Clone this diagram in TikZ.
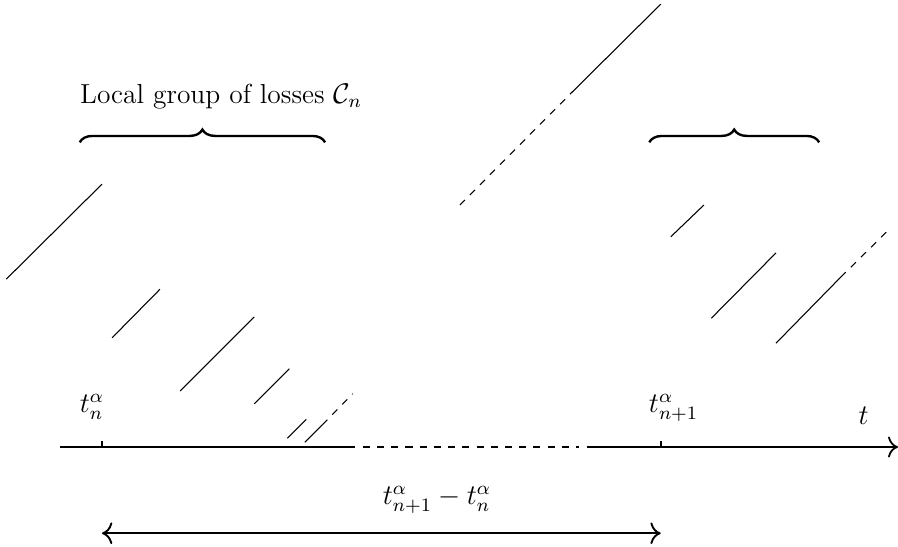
\documentclass[tikz,border=0pt]{standalone}
\usetikzlibrary{decorations.pathreplacing, arrows.meta}

\tikzset{
    loss/.style={black, line width=0.45pt},
    bracebox/.style={decorate, decoration={brace, amplitude=0.19cm}, line width=1pt},
    eixo/.style={line width=0.75pt}
}

\begin{document}
\begin{tikzpicture}[scale=1.0, >={To[scale=1.3]},
        every node/.style={font=\fontsize{11.6}{14}\selectfont}]
        \useasboundingbox (-1.513,-1.469) rectangle (11.81,6.632);

        \coordinate (inicio) at (-0.62,0);
        \coordinate (tn) at (0,0);
        \coordinate (corte1) at (3.75,0);
        \coordinate (corte2) at (3.87,0);
        \coordinate (corte3) at (7.08,0);
        \coordinate (corte4) at (7.19,0);
        \coordinate (tn1) at (8.29,0);
        \coordinate (fim) at (11.81,0);

        % Eixo do tempo.
        \draw[eixo] (inicio) -- (corte1);
        \draw[eixo, dashed] (corte2) -- (corte3);
        \draw[eixo, ->] (corte4) -- (fim);
        \draw[eixo] (tn) -- ++(0,0.09);
        \draw[eixo] (tn1) -- ++(0,0.09);

        \node[anchor=base] (rotulotn) at (-0.15,0.51) {$t_n^\alpha$};
        \node[anchor=base] (rotulotn1) at (8.48,0.51) {$t_{n+1}^\alpha$};
        \node[anchor=base] (rotulot) at (11.30,0.34) {$t$};

        % Perdas locais em torno de t_n.
        \draw[loss] (-1.42,2.49) -- (0,3.90);
        \draw[loss] (0.15,1.62) -- (0.86,2.34);
        \draw[loss] (1.16,0.83) -- (2.26,1.93);
        \draw[loss] (2.26,0.64) -- (2.78,1.16);
        \draw[loss] (2.75,0.13) -- (3.03,0.41);
        \draw[loss] (3.01,0.07) -- (3.27,0.33);
        \draw[loss, dashed] (3.27,0.33) -- (3.72,0.79);

        % Perda longa entre os grupos.
        \draw[loss, dashed] (5.31,3.59) -- (6.96,5.25);
        \draw[loss] (6.96,5.25) -- (8.29,6.57);

        % Perdas locais em torno de t_{n+1}.
        \draw[loss] (8.44,3.12) -- (8.93,3.59);
        \draw[loss] (9.04,1.91) -- (10.0,2.88);
        \draw[loss] (10.0,1.54) -- (10.96,2.52);
        \draw[loss, dashed] (10.96,2.52) -- (11.68,3.23);

        % Chaves dos grupos.
        \draw[bracebox] (-0.33,4.52) -- (3.31,4.52);
        \draw[bracebox] (8.12,4.52) -- (10.64,4.52);
        \node[anchor=base west, inner sep=0pt] (grupo) at (-0.33,5.10)
            {Local group of losses $\mathcal{C}_n$};

        % Intervalo entre os instantes.
        \coordinate (setaA) at (0,-1.28);
        \coordinate (setaB) at (8.29,-1.28);
        \draw[line width=0.8pt, <->] (setaA) -- (setaB);
        \node[anchor=base] (intervalo) at (4.97,-0.86) {$t_{n+1}^\alpha - t_n^\alpha$};
\end{tikzpicture}
\end{document}
